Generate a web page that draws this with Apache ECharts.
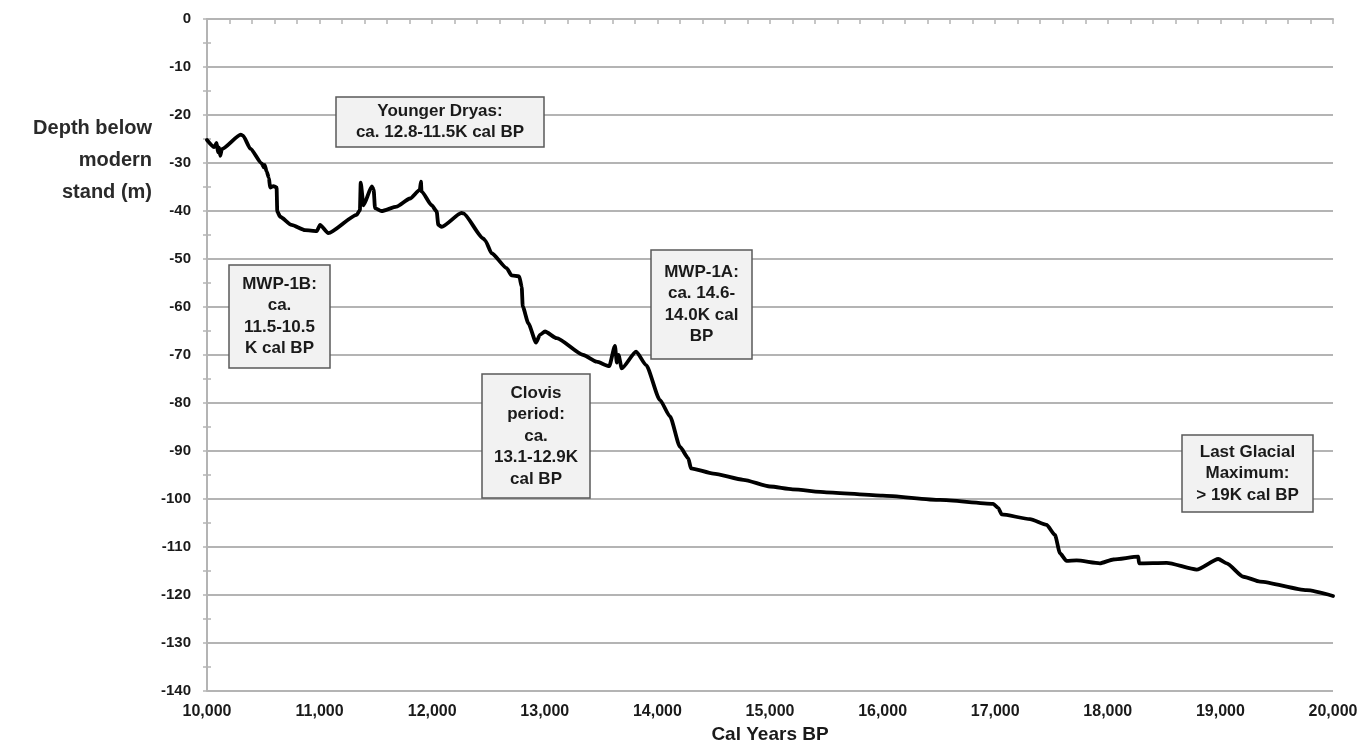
<!DOCTYPE html>
<html>
<head>
<meta charset="utf-8">
<script src="https://cdn.jsdelivr.net/npm/echarts@6/dist/echarts.min.js"></script>
<style>
  html, body { margin: 0; padding: 0; background: #fff; }
  #chart { width: 1362px; height: 748px; }
</style>
</head>
<body>
<div id="chart"></div>
<script>
// Sea-level curve: calibrated years before present vs. depth below modern stand
const years = [
  10000, 10065, 10085, 10098, 10108, 10118, 10132, 10300, 10320, 10385,
  10486, 10505, 10512, 10530, 10550, 10560, 10590, 10618, 10624, 10650,
  10750, 10870, 10975, 11004, 11077, 11330, 11358, 11365, 11390, 11463,
  11480, 11492, 11550, 11684, 11803, 11890, 11900, 11905, 11995, 12040,
  12054, 12084, 12262, 12276, 12453, 12470, 12528, 12661, 12705, 12773,
  12795, 12804, 12854, 12922, 12957, 13002, 13105, 13342, 13460, 13572,
  13623, 13640, 13655, 13683, 13811, 13900, 14023, 14112, 14200, 14274,
  14298, 14497, 14763, 15000, 15200, 15500, 16000, 16510, 16983, 17028,
  17057, 17309, 17457, 17531, 17575, 17634, 17723, 17930, 18049, 18271,
  18277, 18523, 18789, 18981, 19056, 19204, 19352, 19766, 20000
];
const depths = [
  -25.2, -26.7, -25.8, -27.8, -26.8, -28.5, -27.1, -24.1, -24.3, -27.0,
  -30.1, -30.9, -30.4, -31.8, -33.1, -35.1, -34.8, -35.1, -40.1, -41.2,
  -42.9, -44.0, -44.2, -42.9, -44.6, -40.8, -39.8, -34.1, -38.8, -34.9,
  -35.5, -39.4, -40.0, -39.1, -37.4, -35.6, -33.9, -35.9, -38.8, -40.1,
  -42.9, -43.3, -40.4, -40.5, -45.7, -46.1, -48.8, -51.9, -53.4, -53.6,
  -55.8, -59.9, -63.4, -67.4, -65.8, -65.1, -66.5, -70.0, -71.4, -72.3,
  -68.1, -71.6, -70.0, -72.8, -69.3, -72.1, -79.4, -82.8, -89.1, -91.5,
  -93.6, -94.7, -96.0, -97.4, -98.0, -98.6, -99.3, -100.2, -101.0, -101.9,
  -103.2, -104.2, -105.4, -107.5, -111.3, -112.9, -112.8, -113.4, -112.6, -112.0,
  -113.4, -113.3, -114.7, -112.5, -113.4, -116.2, -117.2, -119.0, -120.2
];

// Period annotations
const notes = [
  { text: 'Younger Dryas:\nca. 12.8-11.5K cal BP', box: [336, 97, 208, 50] },
  { text: 'MWP-1B:\nca.\n11.5-10.5\nK cal BP', box: [229, 265, 101, 103] },
  { text: 'MWP-1A:\nca. 14.6-\n14.0K cal\nBP', box: [651, 250, 101, 109] },
  { text: 'Clovis\nperiod:\nca.\n13.1-12.9K\ncal BP', box: [482, 374, 108, 124] },
  { text: 'Last Glacial\nMaximum:\n> 19K cal BP', box: [1182, 435, 131, 77] }
];

const yAxisTitle = 'Depth below\nmodern\nstand (m)';
const xAxisTitle = 'Cal Years BP';

const FONT = '"Liberation Sans", Arial, Helvetica, sans-serif';
const GRID_GREY = '#b4b4b4';
const TEXT = '#1a1a1a';

const points = years.map((y, i) => [y, depths[i]]);

const graphics = [];
notes.forEach(n => {
  const [x, y, w, h] = n.box;
  graphics.push({
    type: 'rect', z: 10,
    shape: { x: x, y: y, width: w, height: h },
    style: { fill: '#f2f2f2', stroke: '#5a5a5a', lineWidth: 1.5 }
  });
  graphics.push({
    type: 'text', z: 11,
    style: {
      x: x + w / 2, y: y + h / 2, text: n.text,
      align: 'center', verticalAlign: 'middle',
      font: 'bold 17px ' + FONT, lineHeight: 21.5, fill: TEXT
    }
  });
});
graphics.push({
  type: 'text', z: 11,
  style: {
    x: 152, y: 160, text: yAxisTitle, align: 'right', verticalAlign: 'middle',
    font: 'bold 20px ' + FONT, lineHeight: 32, fill: '#2a2a2a'
  }
});
graphics.push({
  type: 'text', z: 11,
  style: {
    x: 770, y: 735, text: xAxisTitle, align: 'center', verticalAlign: 'middle',
    font: 'bold 19px ' + FONT, fill: TEXT
  }
});

const chart = echarts.init(document.getElementById('chart'), null, { renderer: 'canvas' });
chart.setOption({
  animation: false,
  backgroundColor: '#ffffff',
  grid: { left: 207, right: 29, top: 19, bottom: 57, containLabel: false },
  xAxis: [
    {
      type: 'value', position: 'top', min: 10000, max: 20000, interval: 200,
      axisLine: { show: true, onZero: false, lineStyle: { color: GRID_GREY, width: 2 } },
      axisTick: { show: true, inside: true, length: 5, lineStyle: { color: GRID_GREY, width: 1.5 } },
      axisLabel: { show: false },
      splitLine: { show: false }
    },
    {
      type: 'value', position: 'bottom', min: 10000, max: 20000, interval: 1000,
      axisLine: { show: false },
      axisTick: { show: false },
      splitLine: { show: false },
      axisLabel: {
        margin: 13, fontFamily: FONT, fontWeight: 'bold', fontSize: 16, color: TEXT,
        formatter: v => v.toLocaleString('en-US')
      }
    }
  ],
  yAxis: [
    {
      type: 'value', position: 'left', min: -140, max: 0, interval: 10,
      axisLine: { show: true, onZero: false, lineStyle: { color: GRID_GREY, width: 2 } },
      axisTick: { show: true, inside: false, length: 4, lineStyle: { color: GRID_GREY, width: 1.5 } },
      minorTick: { show: true, splitNumber: 2, length: 4, lineStyle: { color: GRID_GREY, width: 1.5 } },
      splitLine: { show: true, lineStyle: { color: GRID_GREY, width: 2 } },
      axisLabel: { margin: 16, fontFamily: FONT, fontWeight: 'bold', fontSize: 15, color: TEXT }
    },
    {
      type: 'value', position: 'left', min: -140, max: 0, interval: 5,
      axisLine: { show: false, onZero: false },
      axisTick: { show: true, inside: true, length: 4, lineStyle: { color: GRID_GREY, width: 1.5 } },
      axisLabel: { show: false },
      splitLine: { show: false }
    }
  ],
  series: [{
    type: 'line',
    xAxisIndex: 0,
    yAxisIndex: 0,
    data: points,
    showSymbol: false,
    smooth: 0.2,
    smoothMonotone: 'x',
    lineStyle: { color: '#000', width: 3.8, join: 'round', cap: 'round' },
    z: 5
  }],
  graphic: graphics
});
</script>
</body>
</html>
